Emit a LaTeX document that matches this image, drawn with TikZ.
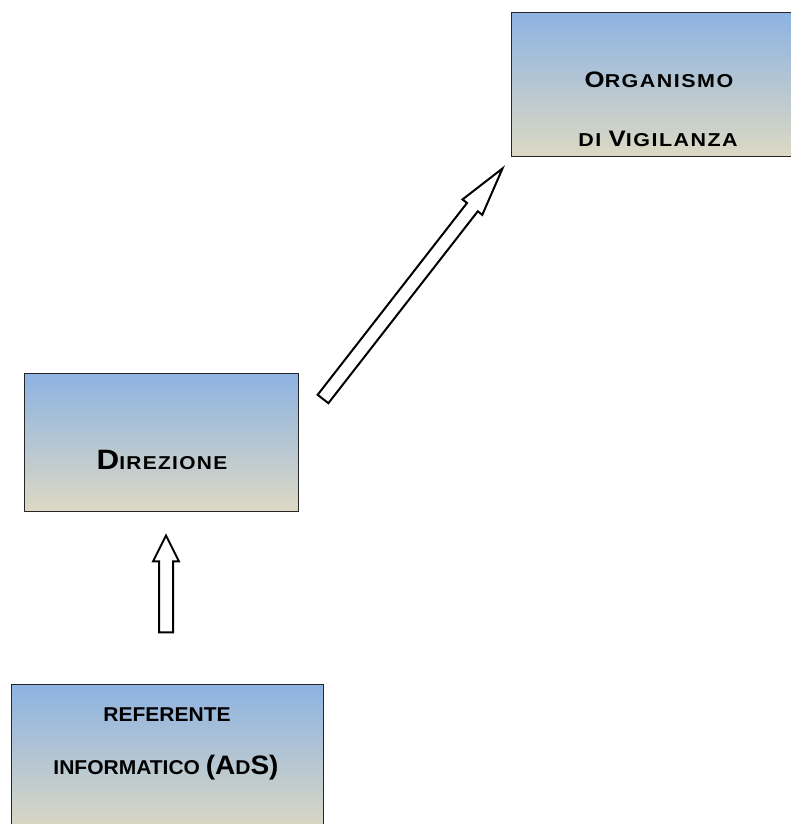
\documentclass[tikz,border=0pt]{standalone}
\usepackage{fontspec}
\setmainfont{Liberation Sans}
\newfontfamily\largo[FakeStretch=1.15,LetterSpace=8]{Liberation Sans}
\newfontfamily\medio[FakeStretch=1.12,LetterSpace=7]{Liberation Sans}
\newfontfamily\stretto[FakeStretch=1.05]{Liberation Sans}
\usetikzlibrary{calc,positioning}
\definecolor{cielo}{RGB}{141,179,226}
\definecolor{sabbia}{RGB}{221,217,195}
\newcommand{\fs}[1]{\fontsize{#1}{#1}\selectfont}

\begin{document}
\begin{tikzpicture}[x=0.75pt,y=0.75pt,
    ente/.style={draw=black!85,line width=0.75pt,top color=cielo,bottom color=sabbia,inner sep=0pt},
    scritta/.style={anchor=base,inner sep=0pt},
    freccia/.style n args={3}{draw=black,fill=white,line width=1.5pt,line join=miter,
      to path={($(\tikztotarget)!#3!(\tikztostart)$) coordinate (bah)
        ($(\tikztostart)!#1!90:(\tikztotarget)$) -- ($(bah)!#1!90:(\tikztotarget)$)
        -- ($(bah)!#2!90:(\tikztotarget)$) -- (\tikztotarget)
        -- ($(bah)!#2!-90:(\tikztotarget)$) -- ($(bah)!#1!-90:(\tikztotarget)$)
        -- ($(\tikztostart)!#1!-90:(\tikztotarget)$) -- cycle}}]
  \useasboundingbox (0,0) rectangle (790,824);
  % boxes
  \node[ente,minimum width=219pt,minimum height=108pt] (org) at (657,739) {};
  \node[ente,minimum width=205.5pt,minimum height=103.5pt] (dir) at (161,381) {};
  \node[ente,minimum width=234pt,minimum height=112.5pt] (ref) at (167,64) {};
  % texts
  \node[scritta,font=\largo\bfseries] (orgtxt1) at ($(org.north)+(2,-75)$) {\fs{16.8}O\fs{14}RGANISMO};
  \node[scritta,font=\largo\bfseries] (orgtxt2) at ($(org.north)+(1,-134)$) {\fs{14}DI \fs{16.8}V\fs{14}IGILANZA};
  \node[scritta,font=\medio\bfseries] (dirtxt) at ($(dir.center)+(1,-27)$) {\fs{21}D\fs{14}IREZIONE};
  \node[scritta,font=\stretto\bfseries] (reftxt1) at ($(ref.north)+(0,-37)$) {\fs{15}REFERENTE};
  \node[scritta,font=\stretto\bfseries] (reftxt2) at ($(ref.north)+(-1,-90)$) {\fs{15}INFORMATICO \fs{20}(A\fs{15}D\fs{20}S)};
  % arrows
  \coordinate (v1) at ($(ref.north)+(-1,52)$);
  \coordinate (v2) at ($(dir.south)+(5,-23)$);
  \coordinate (d1) at ($(dir.east)+(24.5,44)$);
  \coordinate (d2) at ($(org.south west)+(-8,-11)$);
  \draw[freccia={5.25pt}{9.75pt}{19.5pt}] (v1) to (v2);
  \draw[freccia={5.1pt}{9.4pt}{36.75pt}] (d1) to (d2);
\end{tikzpicture}
\end{document}
